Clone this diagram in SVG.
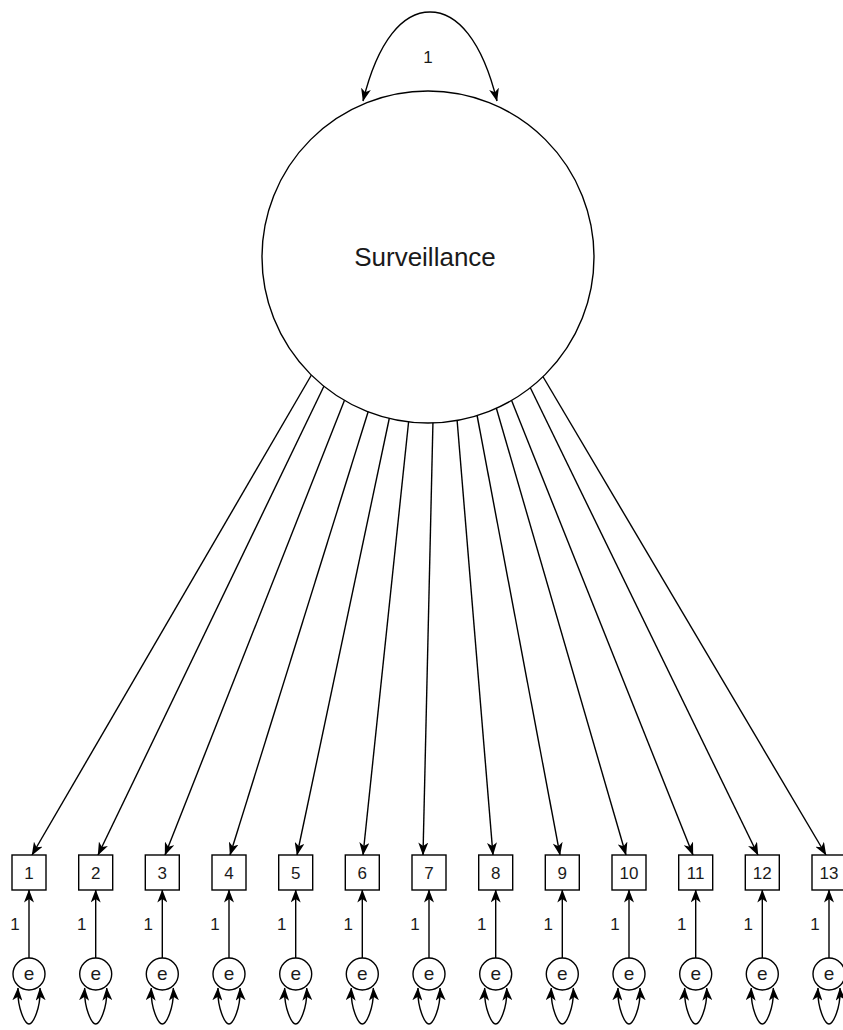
<svg xmlns="http://www.w3.org/2000/svg" width="843" height="1030" viewBox="0 0 843 1030">
  <style>
    .ln { fill: none; stroke: #000; stroke-width: 1.4; }
    .arr { marker-end: url(#head); }
    .loop { fill: none; stroke: #000; stroke-width: 1.4; marker-start: url(#head); marker-end: url(#head); }
    .node { fill: #fff; stroke: #000; stroke-width: 1.4; }
    .lbl { font-family: "Liberation Sans", Arial, sans-serif; fill: #1a1a1a; text-anchor: middle; }
    .big { font-size: 26px; }
    .num { font-size: 17px; }
    .e { font-size: 19px; }
  </style>
  <defs>
    <marker id="head" viewBox="0 0 13 10" refX="12.5" refY="5" markerWidth="13" markerHeight="10" markerUnits="userSpaceOnUse" orient="auto-start-reverse">
      <path d="M0,0 L13,5 L0,10 L3.5,5 z" fill="#000"/>
    </marker>
  </defs>
  <rect width="843" height="1030" fill="#fff"/>

  <!-- connectors: factor loadings, error paths, variances -->
  <g id="connectors">
    <!-- factor variance loop -->
    <path class="loop" d="M363,101 C378,40 403,12 430,12 C457,12 482,40 497,101"/>
    <!-- loadings from Surveillance to items -->
    <line class="ln arr" x1="312" y1="374" x2="32" y2="855"/>
    <line class="ln arr" x1="325" y1="384" x2="98" y2="855"/>
    <line class="ln arr" x1="345" y1="399" x2="165" y2="855"/>
    <line class="ln arr" x1="369" y1="409" x2="230" y2="855"/>
    <line class="ln arr" x1="390" y1="415" x2="297" y2="855"/>
    <line class="ln arr" x1="409" y1="418" x2="363" y2="855"/>
    <line class="ln arr" x1="433" y1="420" x2="423" y2="855"/>
    <line class="ln arr" x1="457" y1="419" x2="493" y2="855"/>
    <line class="ln arr" x1="477" y1="415" x2="560" y2="855"/>
    <line class="ln arr" x1="496" y1="407" x2="626" y2="855"/>
    <line class="ln arr" x1="511" y1="399" x2="693" y2="855"/>
    <line class="ln arr" x1="529" y1="385" x2="758" y2="855"/>
    <line class="ln arr" x1="542" y1="375" x2="826" y2="855"/>
    <!-- error terms to items -->
    <line class="ln arr" x1="29" y1="958" x2="29" y2="890"/>
    <line class="ln arr" x1="95.7" y1="958" x2="95.7" y2="890"/>
    <line class="ln arr" x1="162.3" y1="958" x2="162.3" y2="890"/>
    <line class="ln arr" x1="229" y1="958" x2="229" y2="890"/>
    <line class="ln arr" x1="295.7" y1="958" x2="295.7" y2="890"/>
    <line class="ln arr" x1="362.3" y1="958" x2="362.3" y2="890"/>
    <line class="ln arr" x1="429" y1="958" x2="429" y2="890"/>
    <line class="ln arr" x1="495.7" y1="958" x2="495.7" y2="890"/>
    <line class="ln arr" x1="562.3" y1="958" x2="562.3" y2="890"/>
    <line class="ln arr" x1="629" y1="958" x2="629" y2="890"/>
    <line class="ln arr" x1="695.7" y1="958" x2="695.7" y2="890"/>
    <line class="ln arr" x1="762.3" y1="958" x2="762.3" y2="890"/>
    <line class="ln arr" x1="829" y1="958" x2="829" y2="890"/>
    <!-- error variance loops -->
    <path class="loop" d="M18,988 C17,1008 25,1024 29,1024 C33,1024 41,1008 40,988"/>
    <path class="loop" d="M84.7,988 C83.7,1008 91.7,1024 95.7,1024 C99.7,1024 107.7,1008 106.7,988"/>
    <path class="loop" d="M151.3,988 C150.3,1008 158.3,1024 162.3,1024 C166.3,1024 174.3,1008 173.3,988"/>
    <path class="loop" d="M218,988 C217,1008 225,1024 229,1024 C233,1024 241,1008 240,988"/>
    <path class="loop" d="M284.7,988 C283.7,1008 291.7,1024 295.7,1024 C299.7,1024 307.7,1008 306.7,988"/>
    <path class="loop" d="M351.3,988 C350.3,1008 358.3,1024 362.3,1024 C366.3,1024 374.3,1008 373.3,988"/>
    <path class="loop" d="M418,988 C417,1008 425,1024 429,1024 C433,1024 441,1008 440,988"/>
    <path class="loop" d="M484.7,988 C483.7,1008 491.7,1024 495.7,1024 C499.7,1024 507.7,1008 506.7,988"/>
    <path class="loop" d="M551.3,988 C550.3,1008 558.3,1024 562.3,1024 C566.3,1024 574.3,1008 573.3,988"/>
    <path class="loop" d="M618,988 C617,1008 625,1024 629,1024 C633,1024 641,1008 640,988"/>
    <path class="loop" d="M684.7,988 C683.7,1008 691.7,1024 695.7,1024 C699.7,1024 707.7,1008 706.7,988"/>
    <path class="loop" d="M751.3,988 C750.3,1008 758.3,1024 762.3,1024 C766.3,1024 774.3,1008 773.3,988"/>
    <path class="loop" d="M818,988 C817,1008 825,1024 829,1024 C833,1024 841,1008 840,988"/>
    <!-- path labels -->
    <text class="lbl num" x="428" y="63">1</text>
    <text class="lbl num" x="15" y="930">1</text>
    <text class="lbl num" x="81.7" y="930">1</text>
    <text class="lbl num" x="148.3" y="930">1</text>
    <text class="lbl num" x="215" y="930">1</text>
    <text class="lbl num" x="281.7" y="930">1</text>
    <text class="lbl num" x="348.3" y="930">1</text>
    <text class="lbl num" x="415" y="930">1</text>
    <text class="lbl num" x="481.7" y="930">1</text>
    <text class="lbl num" x="548.3" y="930">1</text>
    <text class="lbl num" x="615" y="930">1</text>
    <text class="lbl num" x="681.7" y="930">1</text>
    <text class="lbl num" x="748.3" y="930">1</text>
    <text class="lbl num" x="815" y="930">1</text>
  </g>

  <!-- latent factor -->
  <g id="surveillance">
    <circle class="node" cx="428" cy="257" r="166"/>
    <text class="lbl big" x="425" y="266">Surveillance</text>
  </g>

  <!-- observed items -->
  <g id="item1"><rect class="node" x="12" y="855" width="34" height="35"/><text class="lbl num" x="29" y="879">1</text></g>
  <g id="item2"><rect class="node" x="78.7" y="855" width="34" height="35"/><text class="lbl num" x="95.7" y="879">2</text></g>
  <g id="item3"><rect class="node" x="145.3" y="855" width="34" height="35"/><text class="lbl num" x="162.3" y="879">3</text></g>
  <g id="item4"><rect class="node" x="212" y="855" width="34" height="35"/><text class="lbl num" x="229" y="879">4</text></g>
  <g id="item5"><rect class="node" x="278.7" y="855" width="34" height="35"/><text class="lbl num" x="295.7" y="879">5</text></g>
  <g id="item6"><rect class="node" x="345.3" y="855" width="34" height="35"/><text class="lbl num" x="362.3" y="879">6</text></g>
  <g id="item7"><rect class="node" x="412" y="855" width="34" height="35"/><text class="lbl num" x="429" y="879">7</text></g>
  <g id="item8"><rect class="node" x="478.7" y="855" width="34" height="35"/><text class="lbl num" x="495.7" y="879">8</text></g>
  <g id="item9"><rect class="node" x="545.3" y="855" width="34" height="35"/><text class="lbl num" x="562.3" y="879">9</text></g>
  <g id="item10"><rect class="node" x="612" y="855" width="34" height="35"/><text class="lbl num" x="629" y="879">10</text></g>
  <g id="item11"><rect class="node" x="678.7" y="855" width="34" height="35"/><text class="lbl num" x="695.7" y="879">11</text></g>
  <g id="item12"><rect class="node" x="745.3" y="855" width="34" height="35"/><text class="lbl num" x="762.3" y="879">12</text></g>
  <g id="item13"><rect class="node" x="812" y="855" width="34" height="35"/><text class="lbl num" x="829" y="879">13</text></g>

  <!-- error terms -->
  <g id="e1"><circle class="node" cx="29" cy="974" r="16"/><text class="lbl e" x="29" y="980">e</text></g>
  <g id="e2"><circle class="node" cx="95.7" cy="974" r="16"/><text class="lbl e" x="95.7" y="980">e</text></g>
  <g id="e3"><circle class="node" cx="162.3" cy="974" r="16"/><text class="lbl e" x="162.3" y="980">e</text></g>
  <g id="e4"><circle class="node" cx="229" cy="974" r="16"/><text class="lbl e" x="229" y="980">e</text></g>
  <g id="e5"><circle class="node" cx="295.7" cy="974" r="16"/><text class="lbl e" x="295.7" y="980">e</text></g>
  <g id="e6"><circle class="node" cx="362.3" cy="974" r="16"/><text class="lbl e" x="362.3" y="980">e</text></g>
  <g id="e7"><circle class="node" cx="429" cy="974" r="16"/><text class="lbl e" x="429" y="980">e</text></g>
  <g id="e8"><circle class="node" cx="495.7" cy="974" r="16"/><text class="lbl e" x="495.7" y="980">e</text></g>
  <g id="e9"><circle class="node" cx="562.3" cy="974" r="16"/><text class="lbl e" x="562.3" y="980">e</text></g>
  <g id="e10"><circle class="node" cx="629" cy="974" r="16"/><text class="lbl e" x="629" y="980">e</text></g>
  <g id="e11"><circle class="node" cx="695.7" cy="974" r="16"/><text class="lbl e" x="695.7" y="980">e</text></g>
  <g id="e12"><circle class="node" cx="762.3" cy="974" r="16"/><text class="lbl e" x="762.3" y="980">e</text></g>
  <g id="e13"><circle class="node" cx="829" cy="974" r="16"/><text class="lbl e" x="829" y="980">e</text></g>
</svg>
